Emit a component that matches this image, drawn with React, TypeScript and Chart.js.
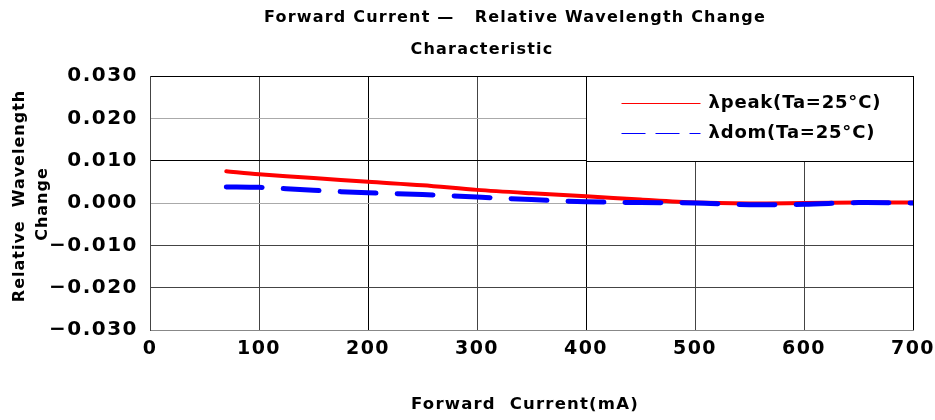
import React, { useEffect, useRef } from "react";
import { Chart, registerables } from "chart.js";

Chart.register(...registerables);

const currentPoints = [70, 100, 150, 200, 250, 300, 350, 400, 450, 500, 550, 600, 650, 700];
const peakShift = [0.0075, 0.0068, 0.0059, 0.005, 0.0042, 0.0031, 0.0023, 0.0016, 0.0008, 0.0001, -0.0001, 0.0, 0.0001, 0.0001];
const domShift = [0.0038, 0.0037, 0.003, 0.0024, 0.002, 0.0014, 0.0008, 0.0003, 0.0001, 0.0, -0.0004, -0.0003, 0.0001, 0.0];
const xTicks = [0, 100, 200, 300, 400, 500, 600, 700];
const yTicks = [-0.03, -0.02, -0.01, 0.0, 0.01, 0.02, 0.03];
const titleLines = ["Forward Current \u2014   Relative Wavelength Change", "Characteristic"];
const xTitle = "Forward  Current(mA)";
const yTitleLines = ["Relative  Wavelength", "Change"];
const legendLabels = ["\u03bbpeak(Ta=25\u00b0C)", "\u03bbdom(Ta=25\u00b0C)"];

const FONT = "'DejaVu Sans', sans-serif";

const decorPlugin = {
  id: "decor",
  beforeDraw(chart: any) {
    const ctx = chart.ctx;
    (ctx as any).letterSpacing = "1.5px";
  },
  afterDatasetsDraw(chart: any) {
    const ctx = chart.ctx;
    const xs = chart.scales.x;
    const ys = chart.scales.y;
    ctx.save();
    // legend box
    const lx0 = Math.round(xs.getPixelForValue(400)) + 0.5;
    const lx1 = Math.round(xs.getPixelForValue(700)) + 0.5;
    const ly0 = Math.round(ys.getPixelForValue(0.03)) + 0.5;
    const ly1 = Math.round(ys.getPixelForValue(0.01)) + 0.5;
    ctx.fillStyle = "#fff";
    ctx.fillRect(lx0, ly0, lx1 - lx0, ly1 - ly0);
    ctx.strokeStyle = "#000";
    ctx.lineWidth = 1;
    ctx.strokeRect(lx0, ly0, lx1 - lx0, ly1 - ly0);
    const rowY = [ly0 + 27, ly0 + 57];
    const colors = ["#ff0000", "#0000ff"];
    for (let i = 0; i < 2; i++) {
      ctx.beginPath();
      ctx.strokeStyle = colors[i];
      ctx.lineWidth = 1;
      ctx.setLineDash(i === 1 ? [24, 10] : []);
      ctx.moveTo(lx0 + 35, rowY[i]);
      ctx.lineTo(lx0 + 114, rowY[i]);
      ctx.stroke();
    }
    ctx.setLineDash([]);
    (ctx as any).letterSpacing = "0.8px";
    ctx.fillStyle = "#000";
    ctx.font = "bold 18px " + FONT;
    ctx.textAlign = "left";
    ctx.textBaseline = "middle";
    for (let i = 0; i < 2; i++) {
      ctx.fillText(legendLabels[i], lx0 + 122, rowY[i]);
    }
    ctx.restore();
  },
  afterDraw(chart: any) {
    const ctx = chart.ctx;
    const area = chart.chartArea;
    ctx.save();
    ctx.fillStyle = "#000";
    ctx.textBaseline = "middle";
    ctx.textAlign = "center";
    (ctx as any).letterSpacing = "1.2px";
    ctx.font = "bold 16px " + FONT;
    ctx.fillText(titleLines[0], area.left + 365, 18);
    ctx.fillText(titleLines[1], area.left + 332, 50);
    ctx.font = "bold 16.5px " + FONT;
    ctx.fillText(xTitle, area.left + 375, 405);
    (ctx as any).letterSpacing = "1px";
    ctx.font = "bold 16px " + FONT;
    const yCenters = [196, 204];
    for (let i = 0; i < yTitleLines.length; i++) {
      ctx.save();
      ctx.translate(20 + i * 23, yCenters[i]);
      ctx.rotate(-Math.PI / 2);
      ctx.fillText(yTitleLines[i], 0, 0);
      ctx.restore();
    }
    ctx.restore();
  },
};

function gridColorY(v: number): string {
  const k = Math.round(v * 1000);
  if (k === 10 || k === 30) return "#000";
  if (k === 0 || k === 20) return "#aaaaaa";
  return "#444";
}
function gridColorX(v: number): string {
  const k = Math.round(v);
  if (k === 200 || k === 400 || k === 700) return "#000";
  return "#444";
}

export default function App() {
  const ref = useRef<HTMLCanvasElement>(null);
  useEffect(() => {
    document.body.style.margin = "0";
    const canvas = ref.current!;
    const chart = new Chart(canvas, {
      type: "line",
      data: {
        datasets: [
          {
            label: legendLabels[0],
            data: currentPoints.map((x, i) => ({ x, y: peakShift[i] })),
            borderColor: "#ff0000",
            borderWidth: 4,
            pointRadius: 0,
            tension: 0.3,
            borderCapStyle: "round",
            order: 1,
          },
          {
            label: legendLabels[1],
            data: currentPoints.map((x, i) => ({ x, y: domShift[i] })),
            borderColor: "#0000ff",
            borderWidth: 5,
            pointRadius: 0,
            tension: 0.3,
            borderDash: [36, 21],
            borderCapStyle: "round",
            order: 0,
          },
        ],
      },
      options: {
        animation: false,
        responsive: false,
        devicePixelRatio: 1,
        layout: { padding: { top: 76, right: 22, left: 0, bottom: 0 } },
        plugins: { legend: { display: false }, title: { display: false }, tooltip: { enabled: false } },
        scales: {
          x: {
            type: "linear",
            min: 0,
            max: 700,
            afterFit: (s: any) => { s.height = 90; s.paddingRight = 0; s.paddingLeft = 0; },
            afterBuildTicks: (s: any) => { s.ticks = xTicks.map((v) => ({ value: v })); },
            border: { display: true, color: "#888", width: 1 },
            grid: {
              color: (c: any) => gridColorX(c.tick ? c.tick.value : 0),
              drawTicks: false,
              lineWidth: 1,
            },
            ticks: {
              color: "#000",
              padding: 8,
              font: { family: FONT, size: 19, weight: "bold" },
              callback: (v: any) => String(v),
            },
          },
          y: {
            type: "linear",
            min: -0.03,
            max: 0.03,
            afterFit: (s: any) => { s.width = 150; s.paddingTop = 0; s.paddingBottom = 0; },
            afterBuildTicks: (s: any) => { s.ticks = yTicks.map((v) => ({ value: v })); },
            border: { display: true, color: "#444", width: 1 },
            grid: {
              color: (c: any) => gridColorY(c.tick ? c.tick.value : 0),
              drawTicks: false,
              lineWidth: 1,
            },
            ticks: {
              color: "#000",
              padding: 12,
              font: { family: FONT, size: 20, weight: "bold" },
              callback: (v: any) => {
                const n = Number(v);
                const s = Math.abs(n).toFixed(3);
                return n < -1e-9 ? "\u2212" + s : s;
              },
            },
          },
        },
      },
      plugins: [decorPlugin],
    } as any);
    return () => chart.destroy();
  }, []);
  return <canvas ref={ref} width={935} height={420} style={{ display: "block" }} />;
}
